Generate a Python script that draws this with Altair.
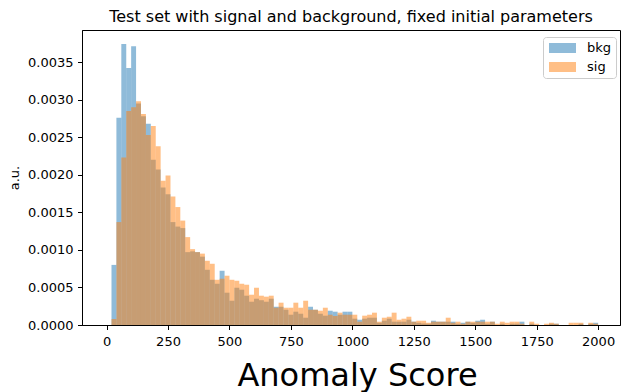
import altair as alt
import pandas as pd

# ---- data ----
bin_start = list(range(0, 2000, 20))
bin_width = 20
series = ["bkg", "sig"]
colors = ["#1f77b4", "#ff7f0e"]

bkg = [
    0.0, 0.00080, 0.00276, 0.00374, 0.00342, 0.00371, 0.00295, 0.00278, 0.00268, 0.00220,
    0.00207, 0.00183, 0.00174, 0.00137, 0.00131, 0.00129, 0.00097, 0.00098, 0.00097, 0.00091,
    0.000735, 0.000602, 0.000549, 0.000722, 0.00043, 0.000323, 0.000496, 0.00047, 0.00039, 0.00031,
    0.00035, 0.00033, 0.00031, 0.00035, 0.000243, 0.000243, 0.000203, 0.000137, 0.000177, 0.00015,
    0.000097, 0.000243, 0.000203, 0.00015, 0.000124, 0.00019, 0.000177, 0.000137, 0.000177, 0.000177,
    0.000084, 0.00007, 0.000084, 0.000097, 0.000097, 0.00003, 0.000057, 0.000084, 0.000044, 0.000044,
    0.000044, 0.00007, 0.000044, 0.00003, 0.00002, 0.000017, 0.000057, 0.000044, 0.000044, 0.000044,
    0.000044, 0.000017, 0.00003, 0.000044, 0.00003, 0.000057, 0.00007, 0.000017, 0.000044, 0.0,
    0.000017, 0.0, 0.000017, 0.000017, 0.000044, 0.0, 0.000017, 0.0, 0.0, 0.0,
    0.000017, 0.000017, 0.0, 0.0, 0.0, 0.0, 0.000017, 0.0, 0.000017, 0.00003,
]

sig = [
    0.0, 0.00008, 0.00137, 0.00223, 0.00285, 0.00290, 0.00298, 0.00281, 0.00253, 0.00265,
    0.00238, 0.00192, 0.00199, 0.00171, 0.00157, 0.00139, 0.00117, 0.00101, 0.00097, 0.00095,
    0.000855, 0.000815, 0.000602, 0.000616, 0.000656, 0.000602, 0.000589, 0.000549, 0.000536, 0.000403,
    0.000496, 0.00039, 0.000377, 0.00039, 0.00023, 0.000297, 0.00023, 0.00023, 0.000297, 0.00023,
    0.000323, 0.000203, 0.000203, 0.00019, 0.00023, 0.000137, 0.00012, 0.000164, 0.000137, 0.000137,
    0.000137, 0.000044, 0.000124, 0.000137, 0.000164, 0.000044, 0.000097, 0.00011, 0.000164, 0.00007,
    0.000084, 0.00011, 0.000044, 0.000057, 0.000057, 0.00003, 0.000044, 0.000044, 0.000044, 0.000097,
    0.00003, 0.000044, 0.000017, 0.000044, 0.000044, 0.000044, 0.000044, 0.000044, 0.000044, 0.000017,
    0.000044, 0.00003, 0.000044, 0.000044, 0.000017, 0.0, 0.000044, 0.000017, 0.0, 0.000017,
    0.00003, 0.000017, 0.0, 0.0, 0.00003, 0.00003, 0.00003, 0.0, 0.00003, 0.000017,
]

x_ticks = [0, 250, 500, 750, 1000, 1250, 1500, 1750, 2000]
y_ticks = [0.0, 0.0005, 0.0010, 0.0015, 0.0020, 0.0025, 0.0030, 0.0035]

title_text = "Test set with signal and background, fixed initial parameters"
x_title = "Anomaly Score"
y_title = "a.u."

rows = []
for name, vals in zip(series, [bkg, sig]):
    for s, v in zip(bin_start, vals):
        rows.append({"series": name, "x0": s, "x1": s + bin_width, "val": v})
df = pd.DataFrame(rows)

FONT = "DejaVu Sans"
W, H = 538, 295

chart = (
    alt.Chart(df)
    .mark_rect(opacity=0.5, strokeWidth=0)
    .encode(
        x=alt.X(
            "x0:Q",
            scale=alt.Scale(domain=[-100, 2089], nice=False, zero=False),
            axis=alt.Axis(
                values=x_ticks,
                format="d",
                title=x_title,
                titleFontSize=32,
                titleFont=FONT,
                titleFontWeight="normal",
                titleColor="black",
                titleBaseline="alphabetic",
                titleX=W / 2 + 6,
                titleY=60,
                labelPadding=5.5,
            ),
        ),
        x2="x1:Q",
        y=alt.Y(
            "val:Q",
            stack=None,
            scale=alt.Scale(domain=[0, 0.003927], nice=False),
            axis=alt.Axis(
                values=y_ticks,
                format=".4f",
                title=y_title,
                titleFontSize=13,
                titleFont=FONT,
                titleFontWeight="normal",
                titleColor="black",
                titleBaseline="alphabetic",
                titleAngle=-90,
                titleX=-63.5,
                titleY=H / 2,
                labelPadding=4.5,
            ),
        ),
        y2=alt.datum(0),
        color=alt.Color(
            "series:N",
            scale=alt.Scale(domain=series, range=colors),
            legend=alt.Legend(
                title=None,
                orient="none",
                legendX=461,
                legendY=7,
                padding=4,
                strokeColor="#cccccc",
                cornerRadius=3,
                fillColor="rgba(255,255,255,0.8)",
                labelFont=FONT,
                labelFontSize=13,
                labelColor="black",
                labelOffset=26,
                symbolType="M-0.714,-0.714H3.143V0.714H-0.714Z",
                symbolSize=196,
                symbolOpacity=0.5,
                symbolStrokeWidth=0,
                rowPadding=5,
            ),
        ),
    )
    .properties(
        width=W,
        height=H,
        title=alt.TitleParams(
            text=title_text,
            font=FONT,
            fontSize=16,
            fontWeight="normal",
            color="black",
            anchor="middle",
            frame="group",
            baseline="alphabetic",
            offset=-7.8,
        ),
        autosize=alt.AutoSizeParams(type="none"),
        padding={"left": 82, "top": 30, "right": 1, "bottom": 67},
    )
    .configure_view(stroke="black", strokeWidth=1)
    .configure_axis(
        grid=False,
        domainColor="black",
        domainWidth=1,
        tickColor="black",
        tickSize=4.5,
        tickWidth=1,
        labelFont=FONT,
        labelFontSize=13,
        labelColor="black",
    )
)

chart.save("out.html", embed_options={"renderer": "svg", "actions": False})
